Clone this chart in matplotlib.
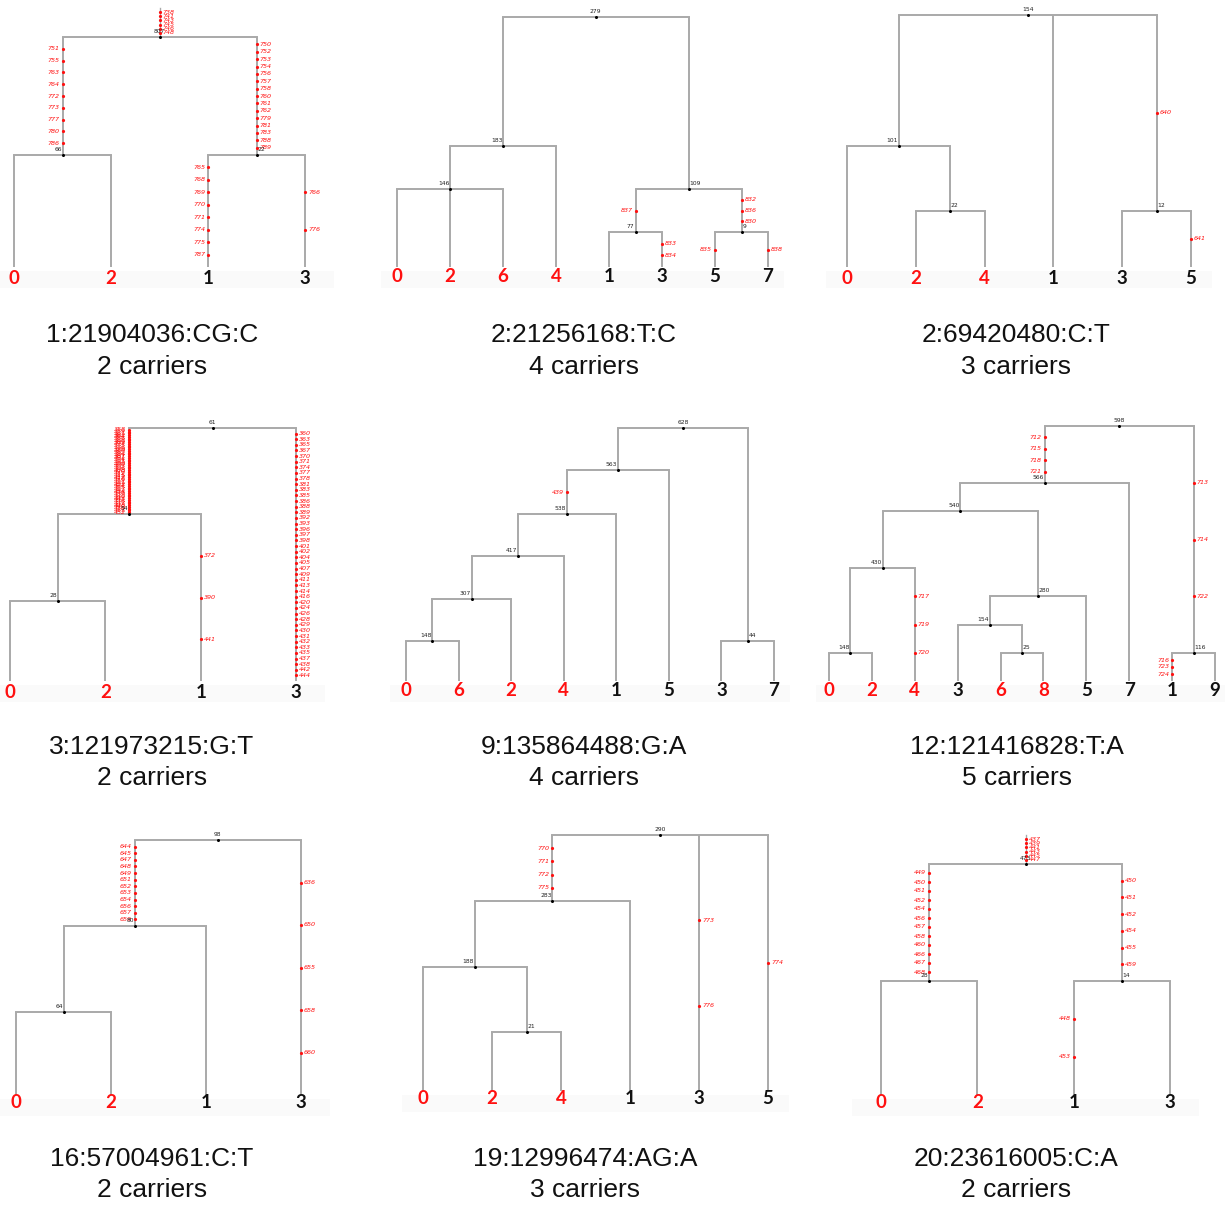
import matplotlib
matplotlib.use("Agg")
import matplotlib.pyplot as plt

# ---------------------------------------------------------------------------
# Data: one genealogy per variant. Leaves are listed in plotting order,
# internal nodes map "n<id>" -> (age, children). Mutations map a branch
# (identified by its lower end, or "root" for the branch above the root)
# to the mutation ids sitting on it, top to bottom.
# ---------------------------------------------------------------------------

VARIANTS = ["1:21904036:CG:C", "2:21256168:T:C", "2:69420480:C:T",
            "3:121973215:G:T", "9:135864488:G:A", "12:121416828:T:A",
            "16:57004961:C:T", "19:12996474:AG:A", "20:23616005:C:A"]

# 1:21904036:CG:C
T1_LEAVES = ["0", "2", "1", "3"]
T1_CARRIERS = ["0", "2"]
T1_NODES = {"n807": (230, ["n66", "n22"]),
            "n66": (112, ["0", "2"]),
            "n22": (112, ["1", "3"])}
T1_ROOT_TOP = 259
T1_MUTS = {"root": ["738", "741", "743", "745", "746", "748"],
           "n66": ["751", "755", "763", "764", "772", "773", "777", "780", "786"],
           "n22": ["750", "752", "753", "754", "756", "757", "758", "760", "761",
                   "762", "779", "781", "783", "788", "789"],
           "1": ["765", "768", "769", "770", "771", "774", "775", "787"],
           "3": ["766", "776"]}

# 2:21256168:T:C
T2_LEAVES = ["0", "2", "6", "4", "1", "3", "5", "7"]
T2_CARRIERS = ["0", "2", "6", "4"]
T2_NODES = {"n279": (250, ["n183", "n109"]),
            "n183": (121, ["n146", "4"]),
            "n146": (78, ["0", "2", "6"]),
            "n109": (78, ["n77", "n9"]),
            "n77": (35, ["1", "3"]),
            "n9": (35, ["5", "7"])}
T2_ROOT_TOP = None
T2_MUTS = {"n77": ["837"],
           "3": ["833", "834"],
           "n9": ["832", "836", "830"],
           "5": ["835"],
           "7": ["838"]}

# 2:69420480:C:T
T3_LEAVES = ["0", "2", "4", "1", "3", "5"]
T3_CARRIERS = ["0", "2", "4"]
T3_NODES = {"n154": (252, ["n101", "1", "n12"]),
            "n101": (121, ["0", "n22"]),
            "n22": (56, ["2", "4"]),
            "n12": (56, ["3", "5"])}
T3_ROOT_TOP = None
T3_MUTS = {"n12": ["640"], "5": ["641"]}

# 3:121973215:G:T
T4_LEAVES = ["0", "2", "1", "3"]
T4_CARRIERS = ["0", "2"]
T4_NODES = {"n61": (253, ["n54", "3"]),
            "n54": (167, ["n28", "1"]),
            "n28": (80, ["0", "2"])}
T4_ROOT_TOP = None
T4_MUTS = {"n54": ["358", "359", "361", "362", "364", "366", "368", "369", "373",
                   "375", "376", "379", "380", "382", "384", "387", "391", "394",
                   "395", "399", "400", "403", "406", "408", "410", "412", "415",
                   "417", "418", "419", "421", "422", "423", "425", "427", "434",
                   "436", "439", "440", "443", "445", "446", "447", "448", "449",
                   "450", "451", "452"],
           "1": ["372", "390", "441"],
           "3": ["360", "363", "365", "367", "370", "371", "374", "377", "378",
                 "381", "383", "385", "386", "388", "389", "392", "393", "396",
                 "397", "398", "401", "402", "404", "405", "407", "409", "411",
                 "413", "414", "416", "420", "424", "426", "428", "429", "430",
                 "431", "432", "433", "435", "437", "438", "442", "444"]}

# 9:135864488:G:A
T5_LEAVES = ["0", "6", "2", "4", "1", "5", "3", "7"]
T5_CARRIERS = ["0", "6", "2", "4"]
T5_NODES = {"n628": (253, ["n563", "n44"]),
            "n563": (211, ["n538", "5"]),
            "n538": (167, ["n417", "1"]),
            "n417": (125, ["n307", "4"]),
            "n307": (82, ["n148", "2"]),
            "n148": (40, ["0", "6"]),
            "n44": (40, ["3", "7"])}
T5_ROOT_TOP = None
T5_MUTS = {"n538": ["439"]}

# 12:121416828:T:A
T6_LEAVES = ["0", "2", "4", "3", "6", "8", "5", "7", "1", "9"]
T6_CARRIERS = ["0", "2", "4", "6", "8"]
T6_NODES = {"n598": (255, ["n566", "n116"]),
            "n566": (198, ["n540", "7"]),
            "n540": (170, ["n430", "n280"]),
            "n430": (113, ["n148", "4"]),
            "n148": (28, ["0", "2"]),
            "n280": (85, ["n154", "5"]),
            "n154": (56, ["3", "n25"]),
            "n25": (28, ["6", "8"]),
            "n116": (28, ["1", "9"])}
T6_ROOT_TOP = None
T6_MUTS = {"n566": ["712", "715", "718", "721"],
           "4": ["717", "719", "720"],
           "n116": ["713", "714", "722"],
           "1": ["716", "723", "724"]}

# 16:57004961:C:T
T7_LEAVES = ["0", "2", "1", "3"]
T7_CARRIERS = ["0", "2"]
T7_NODES = {"n98": (255, ["n80", "3"]),
            "n80": (169, ["n64", "1"]),
            "n64": (83, ["0", "2"])}
T7_ROOT_TOP = None
T7_MUTS = {"n80": ["644", "645", "647", "648", "649", "651", "652", "653", "654",
                   "656", "657", "659"],
           "3": ["636", "650", "655", "658", "660"]}

# 19:12996474:AG:A
T8_LEAVES = ["0", "2", "4", "1", "3", "5"]
T8_CARRIERS = ["0", "2", "4"]
T8_NODES = {"n290": (256, ["n283", "3", "5"]),
            "n283": (190, ["n188", "1"]),
            "n188": (124, ["0", "n21"]),
            "n21": (59, ["2", "4"])}
T8_ROOT_TOP = None
T8_MUTS = {"n283": ["770", "771", "772", "775"],
           "3": ["773", "776"],
           "5": ["774"]}

# 20:23616005:C:A
T9_LEAVES = ["0", "2", "1", "3"]
T9_CARRIERS = ["0", "2"]
T9_NODES = {"n473": (231, ["n28", "n14"]),
            "n28": (114, ["0", "2"]),
            "n14": (114, ["1", "3"])}
T9_ROOT_TOP = 260
T9_MUTS = {"root": ["437", "439", "441", "443", "445", "447"],
           "n28": ["449", "450", "451", "452", "454", "456", "457", "458", "460",
                   "466", "467", "468"],
           "n14": ["450", "451", "452", "454", "455", "459"],
           "1": ["448", "453"]}

TREES = [
    (T1_LEAVES, T1_CARRIERS, T1_NODES, T1_ROOT_TOP, T1_MUTS),
    (T2_LEAVES, T2_CARRIERS, T2_NODES, T2_ROOT_TOP, T2_MUTS),
    (T3_LEAVES, T3_CARRIERS, T3_NODES, T3_ROOT_TOP, T3_MUTS),
    (T4_LEAVES, T4_CARRIERS, T4_NODES, T4_ROOT_TOP, T4_MUTS),
    (T5_LEAVES, T5_CARRIERS, T5_NODES, T5_ROOT_TOP, T5_MUTS),
    (T6_LEAVES, T6_CARRIERS, T6_NODES, T6_ROOT_TOP, T6_MUTS),
    (T7_LEAVES, T7_CARRIERS, T7_NODES, T7_ROOT_TOP, T7_MUTS),
    (T8_LEAVES, T8_CARRIERS, T8_NODES, T8_ROOT_TOP, T8_MUTS),
    (T9_LEAVES, T9_CARRIERS, T9_NODES, T9_ROOT_TOP, T9_MUTS),
]

# ---------------------------------------------------------------------------
# Page layout (pixels): first leaf x, last leaf x, leaf baseline y,
# leaf label y, caption centre x, caption line 1 y, caption line 2 y
# ---------------------------------------------------------------------------
W, H = 1225, 1205
LAYOUT = [
    (14, 305, 267, 278, 152, 335, 367),
    (397, 768, 267, 277, 584, 335, 367),
    (847, 1191, 267, 279, 1016, 335, 367),
    (10, 296, 681, 692, 152, 747, 778),
    (406, 774, 681, 691, 584, 747, 778),
    (829, 1215, 681, 691, 1017, 747, 778),
    (16, 301, 1095, 1103, 152, 1159, 1190),
    (423, 768, 1091, 1099, 585, 1159, 1190),
    (881, 1170, 1095, 1103, 1016, 1159, 1190),
]

BRANCH = "#a9a9a9"
RED = "#ff1010"
LW = 1.4

fig = plt.figure(figsize=(W / 100, H / 100), dpi=100)
fig.patch.set_facecolor("white")


def draw_tree(ax, leaves, carriers, nodes, root_top, muts, label_drop):
    root = next(iter(nodes))
    xpos = {name: float(i) for i, name in enumerate(leaves)}
    age = {name: 0.0 for name in leaves}
    parent = {}

    def place(key):
        h, kids = nodes[key]
        for k in kids:
            parent[k] = key
            if k in nodes:
                place(k)
        xpos[key] = (xpos[kids[0]] + xpos[kids[-1]]) / 2
        age[key] = h

    place(root)

    # faint band behind the sample labels
    n = len(leaves)
    ax.fill_between([-0.3, n - 1 + 0.3], -4, -21, color="#fafafa", lw=0, zorder=0)

    # branches
    for key, (h, kids) in nodes.items():
        ax.plot([xpos[kids[0]], xpos[kids[-1]]], [h, h], color=BRANCH, lw=LW,
                solid_capstyle="projecting", zorder=1)
        for k in kids:
            ax.plot([xpos[k], xpos[k]], [age[k], h], color=BRANCH, lw=LW,
                    solid_capstyle="butt", zorder=1)
    if root_top is not None:
        ax.plot([xpos[root], xpos[root]], [age[root], root_top], color=BRANCH,
                lw=LW * 0.7, zorder=1)

    # mutations along branches
    for key, labels in muts.items():
        if key == "root":
            lo, hi, x, right = age[root], root_top, xpos[root], True
        else:
            lo, hi, x = age[key], age[parent[key]], xpos[key]
            right = nodes[parent[key]][1][0] != key
        m = len(labels)
        ys = [hi - (hi - lo) * (k + 1) / (m + 1) for k in range(m)]
        ax.plot([x] * m, ys, "o", color=RED, ms=2.3, mec="none", zorder=3)
        for lab, y in zip(labels, ys):
            ax.annotate(lab, (x, y), xytext=(2.2 if right else -2.2, 0),
                        textcoords="offset points", ha="left" if right else "right",
                        va="center", fontsize=4.6, style="italic", color=RED,
                        family="DejaVu Sans", zorder=3)

    # internal nodes
    for key, (h, kids) in nodes.items():
        ax.plot(xpos[key], h, "o", color="black", ms=2.2, mec="none", zorder=4)
        if key == root:
            off, ha = (0, 2.5), "center"
        elif nodes[parent[key]][1][0] == key:
            off, ha = (-0.5, 2.0), "right"
        else:
            off, ha = (0.5, 2.0), "left"
        ax.annotate(key[1:], (xpos[key], h), xytext=off, textcoords="offset points",
                    ha=ha, va="bottom", fontsize=4.3, color="#222222",
                    family="DejaVu Sans", zorder=4)

    # sample labels
    for name in leaves:
        ax.text(xpos[name], -label_drop, name, ha="center", va="center",
                fontsize=13.5, fontweight="bold", family="Lato",
                color=RED if name in carriers else "#111111", zorder=5)


for (leaves, carriers, nodes, root_top, muts), lay, title in zip(TREES, LAYOUT, VARIANTS):
    x0, x1, base, lab_y, tx, ty1, ty2 = lay
    step = (x1 - x0) / (len(leaves) - 1)
    ax = fig.add_axes([0, 0, 1, 1])
    ax.set_xlim(-x0 / step, (W - x0) / step)
    ax.set_ylim(base - H, base)
    ax.axis("off")
    ax.patch.set_alpha(0)
    draw_tree(ax, leaves, carriers, nodes, root_top, muts, lab_y - base)

    fig.text(tx / W, 1 - ty1 / H, title, ha="center", va="center",
             fontsize=19, family="Liberation Sans", color="#111111")
    fig.text(tx / W, 1 - ty2 / H, f"{len(carriers)} carriers", ha="center",
             va="center", fontsize=19, family="Liberation Sans", color="#111111")

fig.savefig("out.png", dpi=100, facecolor="white")
